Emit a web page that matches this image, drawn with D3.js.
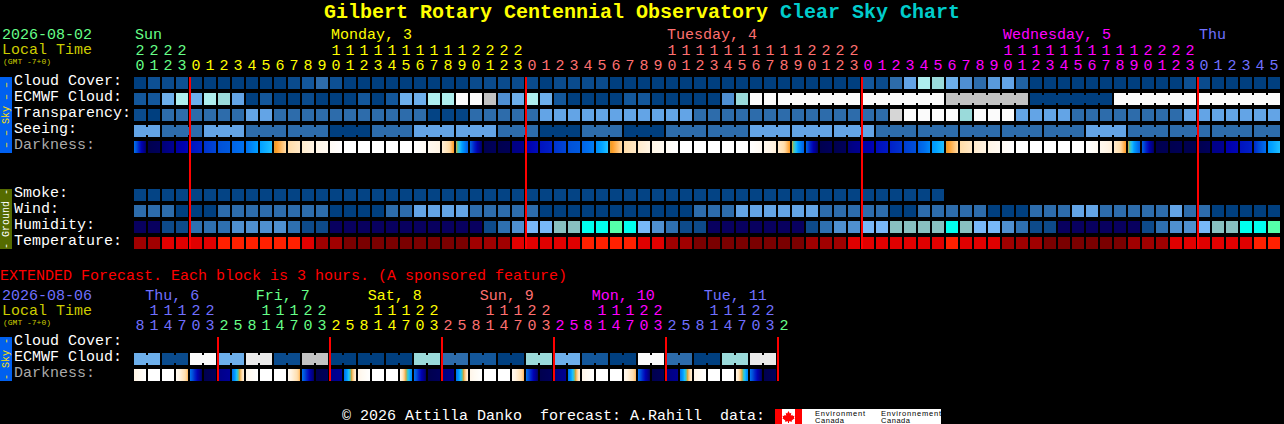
<!DOCTYPE html>
<html>
<head>
<meta charset="utf-8">
<title>Clear Sky Chart</title>
<script src="https://cdn.jsdelivr.net/npm/d3@7"></script>
<style>
html, body { margin: 0; padding: 0; background: #000; overflow: hidden; }
svg { display: block; }
text { font-family: "Liberation Mono", "DejaVu Sans Mono", monospace; white-space: pre; }
</style>
</head>
<body>
<div id="chart"></div>
<script>
// hourly forecast, one value per hour
const hours = [20,21,22,23,
  0,1,2,3,4,5,6,7,8,9,10,11,12,13,14,15,16,17,18,19,20,21,22,23,
  0,1,2,3,4,5,6,7,8,9,10,11,12,13,14,15,16,17,18,19,20,21,22,23,
  0,1,2,3,4,5,6,7,8,9,10,11,12,13,14,15,16,17,18,19,20,21,22,23,
  0,1,2,3,4,5]
const dayNames = ['Sun','Monday, 3','Tuesday, 4','Wednesday, 5','Thu']
const dayLabelCols = [0,14,38,62,76]
const dayStarts = [0,4,28,52,76]
const dayColors = ['#66ff88','#ffff00','#ff7070','#ff00ff','#7070ff']
const midnights = [4,28,52,76]

// levels 0 (clear/dark blue) .. 10 (white)
const cloudCover = [0,.7,.5,.7,0,0,0,0,0,0,0,.5,1,2,.7,0,0,0,0,0,0,0,0,0,.5,.5,.5,.5,.5,0,.5,.5,.5,.5,
  0,0,0,0,0,0,0,0,0,0,0,0,0,0,0,0,0,0,1,.5,2,4,7,6,4.5,3,2,3.5,4,1.5,
  0,0,0,0,0,0,0,0,0,0,0,.7,.5,0,0,0,0,0]
const ecmwfCloud = [1,1,4.5,7,4.5,7,6,4,0,1,0,0,.5,0,0,0,1,0,1,4.5,4.5,7,7,10,10,8,3,4.5,7,4.5,1,0,0,0,0,1,1,0,0,0,0,0,3,6,10,10,
  10,10,10,10,10,10,10,10,10,10,10,10,8,8,8,8,8,8,0,0,0,0,0,0,10,10,10,10,10,10,10,10,10,10,10,10]
const transparency = [.5,0,2,2,2,2,2,2,4,4,2,2,2,2,2,2,2,2,2,2,2,.2,.2,.2,2,2,2,2,2,4,4,4,4,4,4,4,4,4,4,4,
  2,2,2,2,2,2,2,2,2,2,2,2,2,2,8.5,10,10,10,10,6,10,10,10,4,4,4,4,2,2,2,2,2,2,2,2,4,4,4,4,4,4,4]
const seeing = [4,4,2,2,2,4,4,4,2,2,2,2,2,2,0,0,0,2,2,2,4,4,4,4,4,4,2,2,2,0,0,0,2,2,2,0,0,0,2,2,2,2,2,2,
  4,4,4,4,4,4,4,4,4,2,2,2,2,2,2,2,2,2,2,2,2,2,2,2,4,4,4,2,2,2,2,2,2,2,2,2,2,2]
const darkFrom = [5,0,.7,1.6,2.6,3.4,4,4.6,5,6,7.4,8,8.6,9.1,9.6,10,10,10,10,10,10,9.5,8.8,7.4,4.5,
  0,0,.9,1.9,2.6,3.4,4,4.6,5.6,7.4,8,8.6,9.1,9.6,10,10,10,10,10,10,9.4,8.6,7.4,4.5,
  0,0,.8,1.7,2.4,3,3.6,4.4,5.8,7.4,8,8.6,9.1,9.6,10,10,10,10,10,10,9.4,8.6,7.4,4.5,
  0,0,0,0,1,1.9,2.6,3.2,5.8]
const darkTo = [.3,.2,1.2,2.2,3,3.8,4.3,5,6,6.5,8,8.5,9,9.5,10,10,10,10,10,10,9.6,9,7.5,4.5,.3,
  .2,.1,1.1,2.4,3,3.8,4.3,5.3,6.5,8,8.5,9,9.5,10,10,10,10,10,10,9.5,8.8,7.5,4.5,.3,
  .2,.2,1.2,2.1,2.8,3.4,4,5.5,6.5,8,8.5,9,9.5,10,10,10,10,10,10,9.5,8.8,7.5,4.5,.3,
  .1,.1,0,.2,1.2,2.2,3,5,6.5]
const smoke = [.2,.2,.2,.2,.2,.2,.2,.2,.2,.2,.2,.2,.2,.2,.2,.2,.2,.2,.2,.2,.2,.2,.2,.2,.2,.2,.2,.2,.2,
  .2,.2,.2,.2,.2,.2,.2,.2,.2,.2,.2,.2,.2,.2,.2,.2,.2,.2,.2,.2,.2,.2,.2,.2,.2,.2,.2,.2,.2]
const wind = [2,2,2,0,0,0,2,2,2,2,2,2,2,2,0,0,0,0,2,2,4,4,4,4,2,2,2,2,2,0,0,0,0,0,0,0,0,0,0,0,2,2,2,4,4,4,4,4,4,2,2,2,
  2,2,0,0,2,2,2,2,2,0,0,0,2,2,2,4,4,2,2,2,2,2,4,2,2,0,0,0,0,0]
const humidity = [0,0,1,1,2,2,2,3,3,3,3,2,1,1,0,0,0,0,0,0,0,0,0,0,0,1,2,3,4,4,5,5,6,6,7,6,4,3,2,1,1,0,0,0,0,0,0,0,1,2,3,3,
  4,4,5,5,5,5,6,5,4,4,3,2,1,1,0,0,0,0,0,0,1,2,3,3,4,5,5,6,6,7]
const temperature = [1,1,2,2,2,2,3,3,3,3,3,3,2,1,1,0,0,0,0,0,0,0,0,0,1,1,1,2,2,2,2,2,3,3,3,3,2,2,1,1,0,0,0,0,0,0,0,0,1,1,1,2,
  2,2,2,2,2,2,3,2,2,2,1,1,1,0,0,0,0,0,0,1,1,1,2,2,2,2,2,2,3,3]

// extended forecast, one value per 3 hour block
const extHours = [8,11,14,17,20,23,2,5,8,11,14,17,20,23,2,5,8,11,14,17,20,23,2,5,8,11,14,17,20,23,2,5,8,11,14,17,20,23,2,5,8,11,14,17,20,23,2]
const extDayNames = ['Thu, 6','Fri, 7','Sat, 8','Sun, 9','Mon, 10','Tue, 11']
const extDayLabelCols = [.8,8.7,16.7,24.7,32.7,40.7]
const extDayStarts = [0,6,14,22,30,38,46]
const extDayColors = ['#7070ff','#66ff88','#ffff00','#ff7070','#ff00ff','#7070ff','#66ff88']
const extMidnights = [6,14,22,30,38,46]
const extEcmwf = [4.5,4.5,.5,.5,10,10,4.5,4.5,9,9,.5,.5,8,8,0,0,0,0,0,0,6,6,2,2,1,1,0,0,6,6,4.5,4.5,1,1,0,0,10,10,2,2,0,0,6,6,9,9]
const extDarkFrom = [9,10,10,9.5,5,0,1,5,9.2,10,10,9.4,5,0,1,5,9.2,10,10,9.2,5,0,.8,5,9.2,10,10,9.4,5,0,.8,5,9.2,10,10,9.4,5,0,.8,5,9.2,10,10,9.2,5,0]
const extDarkTo = [10,10,10,7.7,.3,.2,1.4,8.8,10,10,10,7.7,.3,.2,1.4,8.8,10,10,10,5.5,.3,.2,1.2,8.8,10,10,10,7.7,.3,.2,1.2,8.8,10,10,10,7.7,.3,.2,1.2,8.8,10,10,10,5.5,.3,.2]

const width = 1284
const height = 424
const step = 14
const cell = 12

const svg = d3.select('#chart').append('svg')
  .attr('width',width)
  .attr('height',height)
  .style('background','#000')
const defs = svg.append('defs')

const x = d3.scaleLinear().domain([0,82]).range([134,134+82*step])

const cloudColor = d3.scaleLinear()
  .domain([0,1,2,3,4,5,6,7,8,9,10])
  .range(['#003f7f','#13579b','#2d6cab','#4f8fd2','#63a4e6','#77b9f0','#9adada','#aeeeee','#c2c2c2','#eaeaea','#fbfbfb'])
const humidityColor = d3.scaleOrdinal()
  .domain([0,1,2,3,4,5,6,7])
  .range(['#08005f','#0d4a8a','#2e70b0','#4f90d0','#78b8f8','#88c0c0','#00ffee','#55ffaa'])
const tempColor = d3.scaleOrdinal()
  .domain([0,1,2,3])
  .range(['#7a0000','#a00000','#e00000','#ff2000'])
const darkColor = d3.scaleLinear()
  .domain([0,1,2,3,4,5,6,6.5,7,7.5,8,9,10])
  .range(['#00004f','#000088','#0000b0','#0020c8','#0050d8','#0070ee','#00a0ff','#20c0ff','#50c8a0','#ff9a20','#ffdca8','#fff4e4','#ffffff'])

function label(txt, px, py, color, size, opts) {
  opts = opts || {}
  return svg.append('text')
    .attr('x',px)
    .attr('y',py)
    .attr('fill',color)
    .attr('font-size',size)
    .attr('font-weight',opts.bold ? 'bold' : null)
    .attr('text-anchor',opts.anchor || null)
    .text(txt)
}

// one row of blocks, group(i) == group(i+1) joins two blocks with a bridge
function row(values, y, color, group) {
  const g = svg.append('g').attr('shape-rendering','crispEdges')
  g.selectAll('rect').data(values).enter().append('rect')
    .attr('x',(d,i) => x(i))
    .attr('y',y)
    .attr('width',cell)
    .attr('height',cell)
    .attr('fill',d => color(d))
  if (!group) return
  g.selectAll('.bridge').data(values.slice(0,-1)).enter().append('rect')
    .attr('class','bridge')
    .attr('x',(d,i) => x(i)+cell)
    .attr('y',y+2)
    .attr('width',step-cell)
    .attr('height',cell-4)
    .attr('fill',d => color(d))
    .attr('display',(d,i) => (group(i) !== null && group(i) === group(i+1)) ? null : 'none')
}

function darkRow(from, to, y, name) {
  from.forEach((d,i) => {
    const grad = defs.append('linearGradient').attr('id',name+i)
    d3.range(0,1.01,.125).forEach(t => {
      grad.append('stop')
        .attr('offset',t)
        .attr('stop-color',darkColor(d3.interpolateNumber(d,to[i])(t)))
    })
    svg.append('rect')
      .attr('x',x(i))
      .attr('y',y)
      .attr('width',cell)
      .attr('height',cell)
      .attr('shape-rendering','crispEdges')
      .attr('fill',`url(#${name}${i})`)
  })
}

function hourLabels(list, starts, colors, tensY, unitsY) {
  const colorOf = i => colors[d3.bisectRight(starts,i)-1]
  list.forEach((h,i) => {
    if (h >= 10) label(Math.floor(h/10),x(i)+6,tensY,colorOf(i),15,{anchor:'middle'})
    label(h%10,x(i)+6,unitsY,colorOf(i),15,{anchor:'middle'})
  })
}

function redLines(cols, top, bottom) {
  svg.selectAll(null).data(cols).enter().append('rect')
    .attr('x',d => x(d)-1)
    .attr('y',top)
    .attr('width',2)
    .attr('height',bottom-top)
    .attr('fill','#ff0000')
    .attr('shape-rendering','crispEdges')
}

function sideBand(txt, top, bottom, fill, color) {
  svg.append('rect').attr('x',0).attr('y',top).attr('width',12).attr('height',bottom-top).attr('fill',fill)
  svg.append('text')
    .attr('transform',`translate(9,${(top+bottom)/2}) rotate(-90)`)
    .attr('text-anchor','middle')
    .attr('fill',color)
    .attr('font-size',10)
    .text(txt)
}

// title
const title = label('Gilbert Rotary Centennial Observatory ',324,18,'#ffff00',20,{bold:true})
title.append('tspan').attr('fill','#00cccc').text('Clear Sky Chart')

// header of the hourly part
label('2026-08-02',2,39,'#66ff88',15)
label('Local Time',2,54,'#cccc00',15)
label('(GMT -7+0)',3,64,'#cccc00',8)
dayNames.forEach((d,i) => label(d,x(dayLabelCols[i])+1,39,dayColors[i],15))
hourLabels(hours,dayStarts,dayColors,55,70)

// sky rows
const sky = [
  ['Cloud Cover:','#ffffff',77],
  ['ECMWF Cloud:','#ffffff',93],
  ['Transparency:','#ffffff',109],
  ['Seeing:','#ffffff',125],
  ['Darkness:','#aaaaaa',141]
]
sky.forEach(d => label(d[0],14,d[2]+8,d[1],15))
row(cloudCover,77,cloudColor)
row(ecmwfCloud,93,cloudColor,i => i < 46 ? null : Math.floor((i-46)/6))
row(transparency,109,cloudColor)
row(seeing,125,cloudColor,i => Math.floor((i+1)/3))
darkRow(darkFrom,darkTo,141,'dark')

// ground rows
const ground = [['Smoke:',189],['Wind:',205],['Humidity:',221],['Temperature:',237]]
ground.forEach(d => label(d[0],14,d[1]+8,'#ffffff',15))
row(smoke,189,cloudColor)
row(wind,205,cloudColor)
row(humidity,221,humidityColor)
row(temperature,237,tempColor)

redLines(midnights,77,249)
sideBand('\u2013 \u2013 Sky \u2013 \u2013',77,153,'#0060f0','#ffe000')
sideBand('- Ground -',189,249,'#556b00','#ffffff')

// extended part
label('EXTENDED Forecast. Each block is 3 hours. (A sponsored feature)',0,280,'#ff0000',15)
label('2026-08-06',2,300,'#7070ff',15)
label('Local Time',2,315,'#cccc00',15)
label('(GMT -7+0)',3,325,'#cccc00',8)
extDayNames.forEach((d,i) => label(d,x(extDayLabelCols[i]),300,extDayColors[i],15))
hourLabels(extHours,extDayStarts,extDayColors,315,330)

label('Cloud Cover:',14,345,'#ffffff',15)
label('ECMWF Cloud:',14,361,'#ffffff',15)
label('Darkness:',14,377,'#aaaaaa',15)
row(extEcmwf,353,cloudColor,i => Math.floor(i/2))
darkRow(extDarkFrom,extDarkTo,369,'extDark')
redLines(extMidnights,337,381)
sideBand('- Sky -',337,381,'#0060f0','#ffe000')

// footer
label('\u00a9 2026 Attilla Danko  forecast: A.Rahill  data:',342,420,'#ffffff',15)
svg.append('rect').attr('x',775).attr('y',409).attr('width',166).attr('height',15).attr('fill','#ffffff')
svg.append('rect').attr('x',775).attr('y',409).attr('width',7).attr('height',15).attr('fill','#ff0000')
svg.append('rect').attr('x',795).attr('y',409).attr('width',7).attr('height',15).attr('fill','#ff0000')
svg.append('path')
  .attr('d','M788.5 411l1.3 2.5 1.5-.7-.5 3 1.6-1 .4 1.2 1.7-.2-.6 2 .8.5-3 2.2.3 1.2-3-.4v1.7h-1v-1.7l-3 .4.3-1.2-3-2.2.8-.5-.6-2 1.7.2.4-1.2 1.6 1-.5-3 1.5.7z')
  .attr('fill','#ff0000')
;[815,881].forEach((px,i) => {
  svg.append('text').attr('x',px).attr('y',415.5).attr('fill','#000').attr('font-size',7.5)
    .style('font-family','"Liberation Sans", sans-serif')
    .attr('textLength',i ? 60 : 50)
    .text(i ? 'Environnement' : 'Environment')
  svg.append('text').attr('x',px).attr('y',423).attr('fill','#000').attr('font-size',7.5)
    .style('font-family','"Liberation Sans", sans-serif')
    .attr('textLength',29)
    .text('Canada')
})
</script>
</body>
</html>
